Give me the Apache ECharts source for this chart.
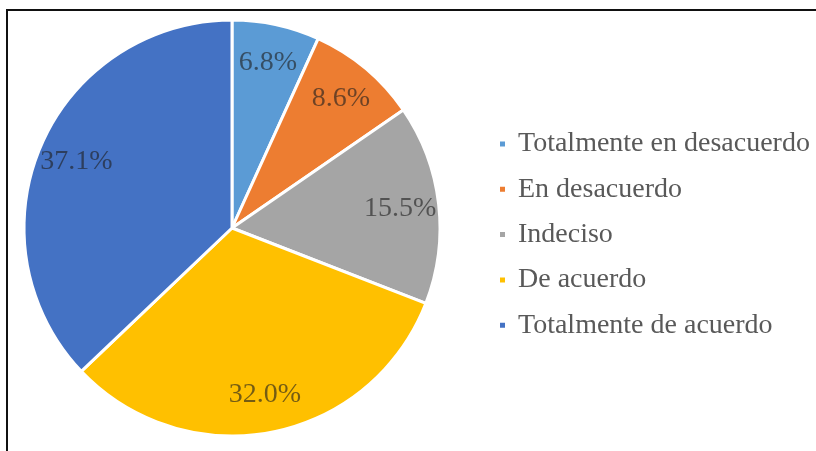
<!DOCTYPE html>
<html>
<head>
<meta charset="utf-8">
<style>
  html, body { margin: 0; padding: 0; background: #fff; }
  #chart { width: 816px; height: 451px; }
</style>
<script src="https://cdn.jsdelivr.net/npm/echarts@6/dist/echarts.min.js"></script>
</head>
<body>
<div id="chart"></div>
<script>
// Survey responses, share of each answer (%)
const categories = [
  'Totalmente en desacuerdo',
  'En desacuerdo',
  'Indeciso',
  'De acuerdo',
  'Totalmente de acuerdo'
];
const shares = [6.8, 8.6, 15.5, 32.0, 37.1];
const sliceColors = ['#5B9BD5', '#ED7D31', '#A5A5A5', '#FFC000', '#4472C4'];

const pieData = categories.map((name, i) => ({
  name,
  value: shares[i],
  itemStyle: { color: sliceColors[i] }
}));

const center = [232, 228];
const outer = 208;
const serif = '"Liberation Serif", "Times New Roman", serif';

const chart = echarts.init(document.getElementById('chart'));
chart.setOption({
  backgroundColor: '#ffffff',
  animation: false,
  graphic: [{
    type: 'rect',
    shape: { x: 7, y: 10, width: 900, height: 500 },
    style: { fill: 'none', stroke: '#111', lineWidth: 2 },
    silent: true
  }],
  legend: {
    orient: 'vertical',
    left: 493,
    top: 125,
    icon: 'rect',
    itemWidth: 7,
    itemHeight: 7,
    itemGap: 17.3,
    data: categories,
    textStyle: {
      fontFamily: serif,
      fontSize: 28,
      lineHeight: 28,
      color: '#595959',
      padding: [0, 0, 0, 7]
    }
  },
  series: [
    {
      // filled slices
      type: 'pie',
      center,
      radius: outer,
      startAngle: 90,
      clockwise: true,
      data: pieData,
      itemStyle: { borderColor: '#ffffff', borderWidth: 3 },
      label: { show: false },
      labelLine: { show: false },
      emphasis: { disabled: true }
    },
    {
      // transparent ring that carries the percentage labels near the rim
      type: 'pie',
      center,
      radius: [outer * 0.6, outer],
      startAngle: 90,
      clockwise: true,
      silent: true,
      data: categories.map((name, i) => ({ name, value: shares[i] })),
      itemStyle: { color: 'rgba(0,0,0,0)', borderWidth: 0 },
      label: {
        show: true,
        position: 'inside',
        formatter: p => p.value.toFixed(1) + '%',
        fontFamily: serif,
        fontSize: 28,
        color: 'rgba(30,30,30,0.62)'
      },
      labelLine: { show: false },
      emphasis: { disabled: true }
    }
  ]
});
</script>
</body>
</html>
